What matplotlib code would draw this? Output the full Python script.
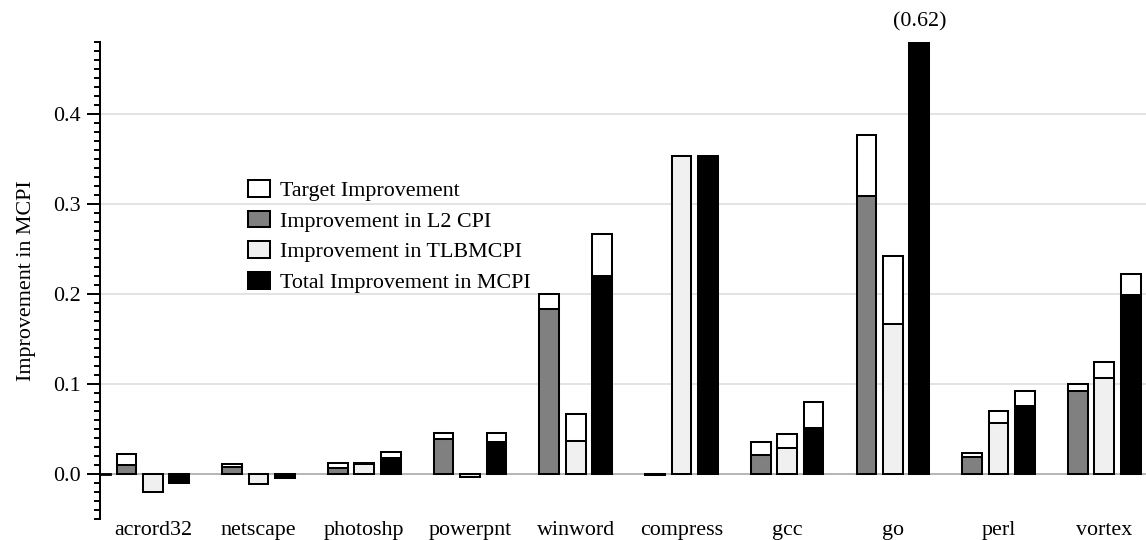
import numpy as np
import matplotlib
matplotlib.use("Agg")
import matplotlib.pyplot as plt
from matplotlib.patches import Patch
from matplotlib.ticker import MultipleLocator, FormatStrFormatter

plt.rcParams["font.family"] = ["Liberation Serif", "DejaVu Serif"]
plt.rcParams["font.size"] = 15.8

# Benchmarks
categories = ["acrord32", "netscape", "photoshp", "powerpnt", "winword",
              "compress", "gcc", "go", "perl", "vortex"]

# Improvement in L2 CPI and its target
l2_improvement = [0.0097, 0.0074, 0.0062, 0.0389, 0.183, -0.002, 0.021, 0.309, 0.0184, 0.092]
l2_target = [0.022, 0.0103, 0.0118, 0.0452, 0.200, 0.0, 0.0356, 0.377, 0.023, 0.0992]

# Improvement in TLB MCPI and its target
tlb_improvement = [-0.020, -0.0118, 0.0111, -0.004, 0.036, 0.353, 0.029, 0.1667, 0.0567, 0.1065]
tlb_target = [0.0, 0.0, 0.0116, 0.0, 0.0667, 0.354, 0.0437, 0.2425, 0.0693, 0.1238]

# Total improvement in MCPI and its target
total_improvement = [-0.0104, -0.0045, 0.0178, 0.035, 0.2203, 0.351, 0.051, 0.62, 0.0747, 0.199]
total_target = [0.0, 0.0, 0.024, 0.045, 0.2667, 0.354, 0.0797, 0.64, 0.0923, 0.222]

y_ticks = [0.0, 0.1, 0.2, 0.3, 0.4]
y_limits = (-0.05, 0.48)

series = [
    (l2_improvement, l2_target, "#808080"),
    (tlb_improvement, tlb_target, "#f0f0f0"),
    (total_improvement, total_target, "#000000"),
]

fig = plt.figure(figsize=(11.46, 5.40), dpi=100)
ax = fig.add_axes([100 / 1146, 21.5 / 540, 1046 / 1146, 476.2 / 540])

x = np.arange(len(categories))
offsets = [-0.25, 0.0, 0.25]
width = 0.187
edge_kw = dict(edgecolor="black", linewidth=1.45, zorder=3)

for (vals, targets, color), off in zip(series, offsets):
    t = np.array(targets)
    v = np.array(vals)
    show = t > v
    ax.bar(x[show] + off, t[show], width, color="white", **edge_kw)
    ax.bar(x + off, v, width, color=color, **edge_kw)

# Value of the bar that runs past the top of the axis
go = categories.index("go")
ax.annotate(f"({total_improvement[go]:.2f})", xy=(x[go] + 0.25, y_limits[1]),
            xytext=(0, 14.5), textcoords="offset points",
            ha="center", va="center", annotation_clip=False)

ax.set_xlim(-0.5, (1146 - 153) / 105.7)
ax.set_ylim(*y_limits)

ax.set_yticks(y_ticks)
ax.yaxis.set_major_formatter(FormatStrFormatter("%.1f"))
ax.yaxis.set_minor_locator(MultipleLocator(0.01))
ax.tick_params(axis="y", which="major", length=9.4, width=1.4, pad=4.5, direction="out")
ax.tick_params(axis="y", which="minor", length=4.2, width=1.4, direction="out")
ax.set_xticks(x)
ax.set_xticklabels(categories)
ax.tick_params(axis="x", length=0, pad=2)

for side in ("top", "right", "bottom"):
    ax.spines[side].set_visible(False)
ax.spines["left"].set_linewidth(1.45)

for yv in y_ticks[1:]:
    ax.axhline(yv, color="#e3e3e3", linewidth=1.4, zorder=1)
ax.axhline(0, color="#b0b0b0", linewidth=1.3, zorder=2)
ax.axhline(0, xmin=0, xmax=0.01, color="black", linewidth=2.0, zorder=4)

ax.set_ylabel("Improvement in MCPI")
ax.yaxis.set_label_coords(-0.061, 0.5)

handles = [
    Patch(facecolor="white", edgecolor="black", linewidth=1.45, label="Target Improvement"),
    Patch(facecolor="#808080", edgecolor="black", linewidth=1.45, label="Improvement in L2 CPI"),
    Patch(facecolor="#f0f0f0", edgecolor="black", linewidth=1.45, label="Improvement in TLBMCPI"),
    Patch(facecolor="#000000", edgecolor="black", linewidth=1.45, label="Total Improvement in MCPI"),
]
leg = ax.legend(handles=handles, loc="upper left",
                bbox_to_anchor=(248 / 1146, (540 - 180) / 540),
                bbox_transform=fig.transFigure, frameon=False,
                borderpad=0, borderaxespad=0, handlelength=1.0, handleheight=0.8,
                handletextpad=0.45, labelspacing=0.44)

fig.savefig("out.png", dpi=100)
